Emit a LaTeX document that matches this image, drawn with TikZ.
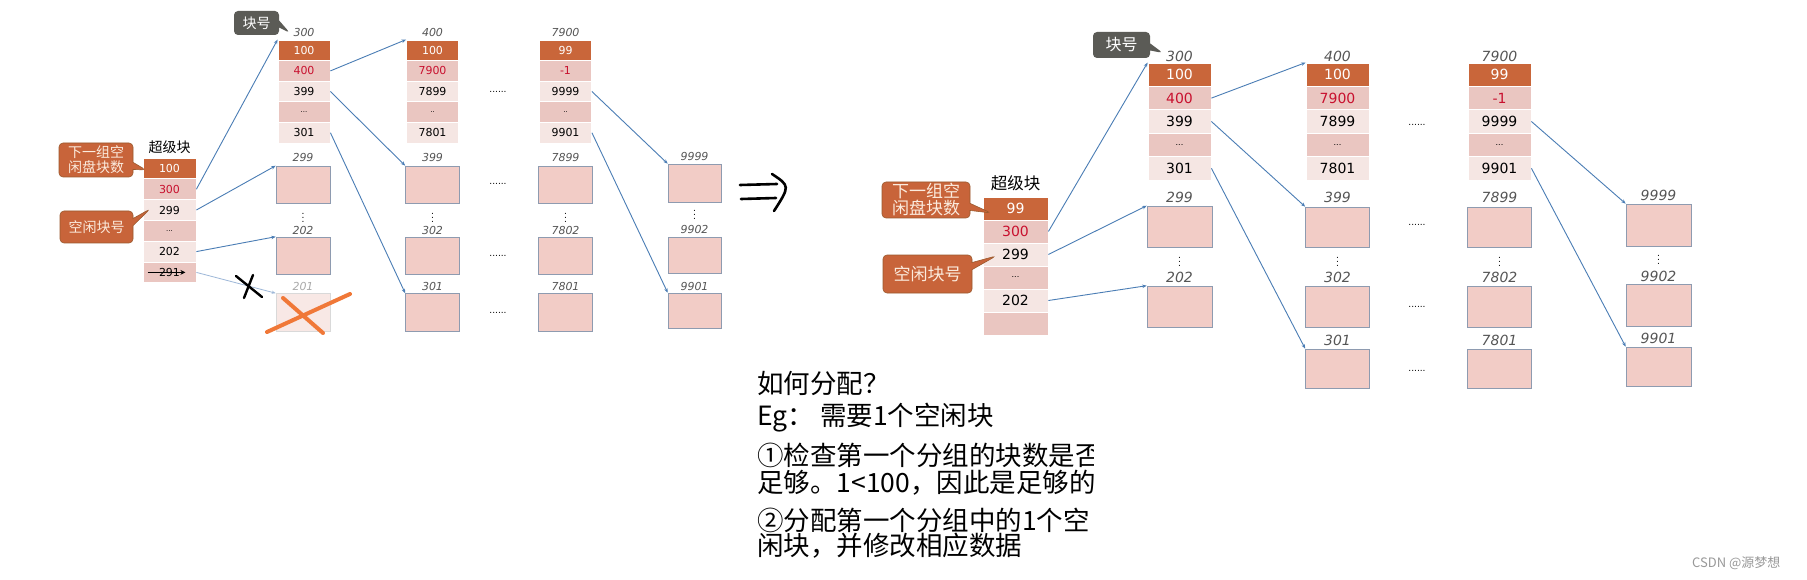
\documentclass[tikz,border=0pt]{standalone}
\usepackage{fontspec}
\setmainfont{DejaVu Sans}
\newfontfamily\cjk{Noto Sans CJK SC}
\usetikzlibrary{arrows.meta,shapes.callouts}
\definecolor{hdrC}{HTML}{C9663A}
\definecolor{rowD}{HTML}{EAC6C1}
\definecolor{rowL}{HTML}{F5E6E3}
\definecolor{boxC}{HTML}{F2CCC6}
\definecolor{boxB}{HTML}{8E9BB0}
\definecolor{fadeC}{HTML}{F8E8E5}
\definecolor{redC}{HTML}{C8102E}
\definecolor{labC}{HTML}{555555}
\definecolor{linkC}{HTML}{4A7DB5}
\definecolor{fadeLink}{HTML}{9DB7D8}
\definecolor{calC}{HTML}{C8643A}
\definecolor{calB}{HTML}{9A5A2E}
\definecolor{calT}{HTML}{FBEBDD}
\definecolor{grayC}{HTML}{5B5B56}
\definecolor{xorange}{HTML}{F07838}
\newcommand{\numL}{\fontsize{11}{12}\selectfont}
\newcommand{\numR}{\fontsize{14}{15}\selectfont}
\newcommand{\labL}{\fontsize{11}{12}\selectfont\itshape}
\newcommand{\labR}{\fontsize{14}{15}\selectfont\itshape}
\tikzset{
  cL/.style={rectangle, minimum width=52pt, minimum height=20.6pt, inner sep=0pt, draw=white, line width=0.8pt, font=\numL},
  cS/.style={rectangle, minimum width=53pt, minimum height=20.8pt, inner sep=0pt, draw=white, line width=0.8pt, font=\numL},
  cR/.style={rectangle, minimum width=63pt, minimum height=23.4pt, inner sep=0pt, draw=white, line width=0.8pt, font=\numR},
  cRS/.style={rectangle, minimum width=65pt, minimum height=23pt, inner sep=0pt, draw=white, line width=0.8pt, font=\numR},
  hdr/.style={fill=hdrC, text=white},
  dk/.style={fill=rowD},
  lt/.style={fill=rowL},
  redtxt/.style={text=redC},
  bx/.style={rectangle, inner sep=0pt, fill=boxC, draw=boxB, line width=0.6pt},
  bL/.style={bx, minimum width=54pt, minimum height=37pt},
  bR/.style={bx, minimum width=64pt, minimum height=41pt},
  labl/.style={text=labC, font=\labL, inner sep=0pt},
  labr/.style={text=labC, font=\labR, inner sep=0pt},
  link/.style={draw=linkC, line width=0.9pt, -{Stealth[length=4.5pt,width=3.5pt]}},
  vd/.style={inner sep=0pt, font=\fontsize{9}{9}\selectfont},
  hd/.style={inner sep=0pt, font=\fontsize{9}{9}\selectfont},
  call/.style={rectangle callout, rounded corners=4pt, fill=calC, draw=calB, line width=0.6pt, text=calT, align=center, inner sep=0pt},
  gcall/.style={rectangle callout, rounded corners=4pt, fill=grayC, text=white, inner sep=0pt},
  txt/.style={anchor=west, inner sep=0pt, font=\cjk\fontsize{26.5}{26.5}\selectfont}
}
\begin{document}
\begin{tikzpicture}[x=1pt,y=-1pt]
\fill[white] (0,0) rectangle (1807,580);
\useasboundingbox (0,0) rectangle (1807,580);

%================ LEFT DIAGRAM =================
% super block
\node[font=\cjk\fontsize{14}{14}\selectfont, inner sep=0pt] (Lsup) at (169.5,147) {超级块};
\node[cS,hdr] (Ls1) at (169.5,168.4) {100};
\node[cS,dk,redtxt] (Ls2) at (169.5,189.2) {300};
\node[cS,lt] (Ls3) at (169.5,210) {299};
\node[cS,dk] (Ls4) at (169.5,230.8) {\fontsize{7}{7}\selectfont ...};
\node[cS,lt] (Ls5) at (169.5,251.6) {202};
\node[cS,dk] (Ls6) at (169.5,272.4) {291};
\draw[line width=1.6pt, -{Stealth[length=5pt,width=5pt]}] ([xshift=5pt]Ls6.west) -- ([xshift=-11pt]Ls6.east);

% callouts
\node[call, minimum width=74pt, minimum height=34pt, font=\cjk\fontsize{14}{15}\selectfont,
      callout absolute pointer={(146,170)}] (Lc1) at (96,160) {下一组空\\闲盘块数};
\node[call, minimum width=73pt, minimum height=32pt, font=\cjk\fontsize{14}{15}\selectfont,
      callout absolute pointer={(150,209)}] (Lc2) at (96.5,227) {空闲块号};
\node[gcall, minimum width=45pt, minimum height=24pt, font=\cjk\fontsize{14}{14}\selectfont,
      callout absolute pointer={(290,33)}] (Lk) at (256.5,23) {块号};

% column 300
\node[labl] (Lt300) at (304,32) {300};
\node[cL,hdr] (La1) at (304,50.3) {100};
\node[cL,dk,redtxt] (La2) at (304,70.9) {400};
\node[cL,lt] (La3) at (304,91.5) {399};
\node[cL,dk] (La4) at (304,112.1) {\fontsize{7}{7}\selectfont ...};
\node[cL,lt] (La5) at (304,132.7) {301};
% column 400
\node[labl] (Lt400) at (432.5,32) {400};
\node[cL,hdr] (Lb1) at (432.5,50.3) {100};
\node[cL,dk,redtxt] (Lb2) at (432.5,70.9) {7900};
\node[cL,lt] (Lb3) at (432.5,91.5) {7899};
\node[cL,dk] (Lb4) at (432.5,112.1) {\fontsize{7}{7}\selectfont ..};
\node[cL,lt] (Lb5) at (432.5,132.7) {7801};
% column 7900
\node[labl] (Lt7900) at (565.5,32) {7900};
\node[cL,hdr] (Lc1b) at (565.5,50.3) {99};
\node[cL,dk,redtxt] (Lc2b) at (565.5,70.9) {-1};
\node[cL,lt] (Lc3b) at (565.5,91.5) {9999};
\node[cL,dk] (Lc4b) at (565.5,112.1) {\fontsize{7}{7}\selectfont ..};
\node[cL,lt] (Lc5b) at (565.5,132.7) {9901};

% boxes under column 300
\node[labl] at (303,157) {299};
\node[bL] (Lp1) at (303,184.5) {};
\node[vd] at (303,215) {$\vdots$};
\node[labl] at (303,230) {202};
\node[bL] (Lp2) at (303,255.5) {};
\node[labl, text=labC!50] at (303,286) {201};
\node[bx, fill=fadeC, draw=gray!30, minimum width=54pt, minimum height=38pt] (Lp3) at (303,312.5) {};
% boxes under column 400
\node[labl] at (432.5,157) {399};
\node[bL] (Lq1) at (432.5,184.5) {};
\node[vd] at (432.5,215) {$\vdots$};
\node[labl] at (432.5,230) {302};
\node[bL] (Lq2) at (432.5,255.5) {};
\node[labl] at (432.5,286) {301};
\node[bL, minimum height=38pt] (Lq3) at (432.5,312.5) {};
% boxes under column 7900
\node[labl] at (565.5,157) {7899};
\node[bL] (Lr1) at (565.5,184.5) {};
\node[vd] at (565.5,215) {$\vdots$};
\node[labl] at (565.5,230) {7802};
\node[bL] (Lr2) at (565.5,255.5) {};
\node[labl] at (565.5,286) {7801};
\node[bL, minimum height=38pt] (Lr3) at (565.5,312.5) {};
% boxes 9999 group
\node[labl] at (694.5,156) {9999};
\node[bL, minimum width=53pt, minimum height=38pt] (Lu1) at (694.5,183) {};
\node[vd] at (694.5,212) {$\vdots$};
\node[labl] at (694.5,229) {9902};
\node[bL, minimum width=53pt, minimum height=36pt] (Lu2) at (694.5,255) {};
\node[labl] at (694.5,286) {9901};
\node[bL, minimum width=53pt, minimum height=35pt] (Lu3) at (694.5,310.5) {};
% ellipses
\node[hd] at (498,92) {......};
\node[hd] at (498,184) {......};
\node[hd] at (498,256) {......};
\node[hd] at (498,313) {......};

% connectors left
\draw[link] (Ls2.east) -- (La1.north west);
\draw[link] (Ls3.east) -- (Lp1.north west);
\draw[link] (Ls5.east) -- (Lp2.north west);
\draw[draw=fadeLink, line width=0.8pt, -{Stealth[length=4pt,width=3pt]}] (Ls6.east) -- (Lp3.north west);
\draw[link] (La2.east) -- (Lb1.north west);
\draw[link] (La3.east) -- (Lq1.north west);
\draw[link] (La5.east) -- (Lq3.north west);
\draw[link] (Lc3b.east) -- (Lu1.north west);
\draw[link] (Lc5b.east) -- (Lu3.north west);

% hand-drawn marks
\draw[line width=2.4pt, line cap=round] (236,276) -- (262,297);
\draw[line width=2.4pt, line cap=round] (244,298) -- (253,275);
\draw[xorange, line width=4pt, line cap=round] (283,298) -- (323,333);
\draw[xorange, line width=4pt, line cap=round] (267,332) -- (350,294);

% big arrow
\draw[line width=2.6pt, line cap=round] (740,185) -- (777,184);
\draw[line width=2.6pt, line cap=round] (741,199) -- (776,198);
\draw[line width=2.6pt, line cap=round] (772,174) .. controls (790,186) .. (774,211);

%================ RIGHT DIAGRAM =================
\node[font=\cjk\fontsize{16.5}{16.5}\selectfont, inner sep=0pt] (Rsup) at (1015.5,183) {超级块};
\node[cRS,hdr] (Rs1) at (1015.5,208.5) {99};
\node[cRS,dk,redtxt] (Rs2) at (1015.5,231.5) {300};
\node[cRS,lt] (Rs3) at (1015.5,254.5) {299};
\node[cRS,dk] (Rs4) at (1015.5,277.5) {\fontsize{8}{8}\selectfont ...};
\node[cRS,lt] (Rs5) at (1015.5,300.5) {202};
\node[cRS,dk] (Rs6) at (1015.5,323.5) {};

\node[call, minimum width=88pt, minimum height=36pt, font=\cjk\fontsize{17}{17}\selectfont,
      callout absolute pointer={(991,213)}] (Rc1) at (926,200) {下一组空\\闲盘块数};
\node[call, minimum width=89pt, minimum height=38pt, font=\cjk\fontsize{17}{17}\selectfont,
      callout absolute pointer={(996,256)}] (Rc2) at (927.5,274) {空闲块号};
\node[gcall, minimum width=57pt, minimum height=26pt, font=\cjk\fontsize{16}{16}\selectfont,
      callout absolute pointer={(1163,53)}] (Rk) at (1121.5,45) {块号};

% column 300
\node[labr] at (1179.5,56) {300};
\node[cR,hdr] (Ra1) at (1179.5,74.7) {100};
\node[cR,dk,redtxt] (Ra2) at (1179.5,98.1) {400};
\node[cR,lt] (Ra3) at (1179.5,121.5) {399};
\node[cR,dk] (Ra4) at (1179.5,144.9) {\fontsize{8}{8}\selectfont ...};
\node[cR,lt] (Ra5) at (1179.5,168.3) {301};
% column 400
\node[labr] at (1337.5,56) {400};
\node[cR,hdr] (Rb1) at (1337.5,74.7) {100};
\node[cR,dk,redtxt] (Rb2) at (1337.5,98.1) {7900};
\node[cR,lt] (Rb3) at (1337.5,121.5) {7899};
\node[cR,dk] (Rb4) at (1337.5,144.9) {\fontsize{8}{8}\selectfont ...};
\node[cR,lt] (Rb5) at (1337.5,168.3) {7801};
% column 7900
\node[labr] at (1499.5,56) {7900};
\node[cR,hdr] (Rc1b) at (1499.5,74.7) {99};
\node[cR,dk,redtxt] (Rc2b) at (1499.5,98.1) {-1};
\node[cR,lt] (Rc3b) at (1499.5,121.5) {9999};
\node[cR,dk] (Rc4b) at (1499.5,144.9) {\fontsize{8}{8}\selectfont ...};
\node[cR,lt] (Rc5b) at (1499.5,168.3) {9901};

% boxes under 300
\node[labr] at (1179.5,197) {299};
\node[bR, minimum width=65pt] (Rp1) at (1179.5,226.5) {};
\node[vd] at (1179.5,259) {$\vdots$};
\node[labr] at (1179.5,277) {202};
\node[bR, minimum width=65pt] (Rp2) at (1179.5,306.5) {};
% boxes under 400
\node[labr] at (1337.5,197) {399};
\node[bR, minimum height=40pt] (Rq1) at (1337.5,227) {};
\node[vd] at (1337.5,259) {$\vdots$};
\node[labr] at (1337.5,277) {302};
\node[bR] (Rq2) at (1337.5,306.5) {};
\node[labr] at (1337.5,340) {301};
\node[bR, minimum height=39pt] (Rq3) at (1337.5,368.5) {};
% boxes under 7900
\node[labr] at (1499.5,197) {7899};
\node[bR, minimum height=40pt] (Rr1) at (1499.5,227) {};
\node[vd] at (1499.5,259) {$\vdots$};
\node[labr] at (1499.5,277) {7802};
\node[bR] (Rr2) at (1499.5,306.5) {};
\node[labr] at (1499.5,340) {7801};
\node[bR, minimum height=39pt] (Rr3) at (1499.5,368.5) {};
% boxes 9999 group
\node[labr] at (1658.5,195) {9999};
\node[bR, minimum width=65pt, minimum height=42pt] (Ru1) at (1658.5,225) {};
\node[vd] at (1658.5,257) {$\vdots$};
\node[labr] at (1658.5,276) {9902};
\node[bR, minimum width=65pt, minimum height=42pt] (Ru2) at (1658.5,305) {};
\node[labr] at (1658.5,338) {9901};
\node[bR, minimum width=65pt, minimum height=39pt] (Ru3) at (1658.5,366.5) {};
% ellipses
\node[hd] at (1417,125) {......};
\node[hd] at (1417,225) {......};
\node[hd] at (1417,307) {......};
\node[hd] at (1417,371) {......};

% connectors right
\draw[link] (Rs2.east) -- (Ra1.north west);
\draw[link] (Rs3.east) -- (Rp1.north west);
\draw[link] (Rs5.east) -- (Rp2.north west);
\draw[link] (Ra2.east) -- (Rb1.north west);
\draw[link] (Ra3.east) -- (Rq1.north west);
\draw[link] (Ra5.east) -- (Rq3.north west);
\draw[link] (Rc3b.east) -- (Ru1.north west);
\draw[link] (Rc5b.east) -- (Ru3.north west);

%================ TEXT =================
\node[txt] (t1) at (757,383) {如何分配？};
\node[txt] (t2) at (757,418) {Eg： 需要1个空闲块};
\begin{scope}
\clip (740,435) rectangle (1093,475);
\node[txt] (t3) at (757,455) {①检查第一个分组的块数是否};
\end{scope}
\node[txt] (t4) at (757,483) {足够。1<100，因此是足够的};
\node[txt] (t5) at (757,520) {②分配第一个分组中的1个空};
\node[txt] (t6) at (757,546) {闲块，并修改相应数据};

\node[anchor=west, inner sep=0pt, text=gray!80, font=\cjk\fontsize{13}{13}\selectfont] (wm) at (1692,563) {CSDN @源梦想};
\end{tikzpicture}
\end{document}
